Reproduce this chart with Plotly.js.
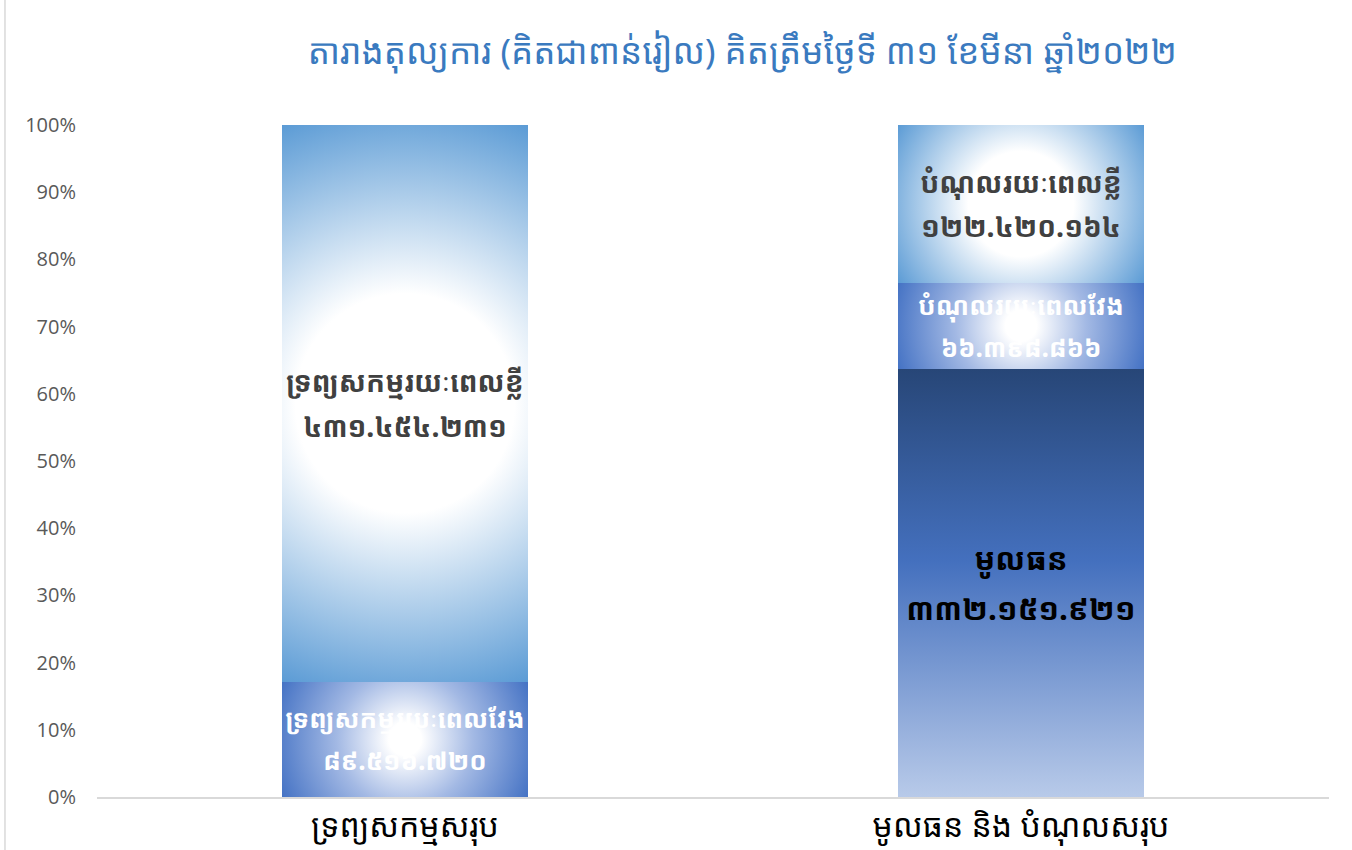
<!DOCTYPE html>
<html>
<head>
<meta charset="utf-8">
<script src="https://cdn.plot.ly/plotly-3.0.1.min.js"></script>
<style>
  html, body { margin: 0; padding: 0; background: #ffffff; }
  #chart { width: 1352px; height: 850px; }
</style>
</head>
<body>
<div id="chart"></div>
<script>
// ---------------- DATA ----------------
const titleText = 'តារាងតុល្យការ (គិតជាពាន់រៀល) គិតត្រឹមថ្ងៃទី ៣១ ខែមីនា ឆ្នាំ២០២២';
const categories = ['ទ្រព្យសកម្មសរុប', 'មូលធន និង បំណុលសរុប'];
const seriesNames = ['ទ្រព្យសកម្មរយៈពេលវែង', 'ទ្រព្យសកម្មរយៈពេលខ្លី', 'មូលធន', 'បំណុលរយៈពេលវែង', 'បំណុលរយៈពេលខ្លី'];
const seriesCategory = [0, 0, 1, 1, 1];
const seriesValues = [89516720, 431454231, 332151921, 66398866, 122420164];
const yTickValues = [0, 0.1, 0.2, 0.3, 0.4, 0.5, 0.6, 0.7, 0.8, 0.9, 1.0];

// ---------------- STYLES ----------------
const khmerFont = "'Khmer OS Siemreap', 'Khmer OS', 'Noto Sans Khmer', 'Noto Serif Khmer', 'Hanuman', 'Noto Sans', sans-serif";
const baseColors = ['#4472C4', '#5B9BD5', '#3B62A8', '#4472C4', '#5B9BD5'];
const textColors = ['#ffffff', '#404040', '#000000', '#ffffff', '#404040'];
const textSizes = [26, 28, 31, 26, 28];
const lineGapEm = 1.6;
const fillSpecs = [
  { type: 'radial', stops: [[0, '#ffffff'], [0.12, '#ffffff'], [0.5, '#a3b9e4'], [1, '#4472C4']] },
  { type: 'radial', stops: [[0, '#ffffff'], [0.36, '#ffffff'], [1, '#5B9BD5']] },
  { type: 'linear', stops: [[0, '#274677'], [0.45, '#4470BE'], [1, '#B8CAE9']] },
  { type: 'radial', stops: [[0, '#ffffff'], [0.12, '#ffffff'], [0.5, '#a3b9e4'], [1, '#4472C4']] },
  { type: 'radial', stops: [[0, '#ffffff'], [0.36, '#ffffff'], [1, '#5B9BD5']] }
];

const khmerDigits = ['០', '១', '២', '៣', '៤', '៥', '៦', '៧', '៨', '៩'];
function toKhmerNumber(n) {
  const s = String(n).replace(/\B(?=(\d{3})+(?!\d))/g, '.');
  return s.replace(/\d/g, d => khmerDigits[+d]);
}

const traces = seriesNames.map((name, i) => ({
  type: 'bar',
  name: name,
  x: [categories[seriesCategory[i]]],
  y: [seriesValues[i]],
  text: [name + '<br>' + toKhmerNumber(seriesValues[i])],
  textposition: 'inside',
  insidetextanchor: 'middle',
  textangle: 0,
  constraintext: 'none',
  textfont: { family: khmerFont, size: textSizes[i], color: textColors[i], weight: 'bold' },
  marker: { color: baseColors[i], line: { width: 0 } },
  hoverinfo: 'skip',
  showlegend: false
}));

const layout = {
  width: 1352,
  height: 850,
  paper_bgcolor: '#ffffff',
  plot_bgcolor: '#ffffff',
  margin: { l: 97, r: 23, t: 125, b: 53, pad: 0 },
  barmode: 'stack',
  barnorm: 'fraction',
  bargap: 0.6,
  showlegend: false,
  title: {
    text: titleText,
    font: { family: khmerFont, size: 35, color: '#3A7ABF' },
    xref: 'container', x: 0.549, xanchor: 'center',
    yref: 'container', y: 0.939, yanchor: 'middle'
  },
  xaxis: {
    type: 'category',
    categoryorder: 'array',
    categoryarray: categories,
    range: [-0.5, 1.5],
    showline: true,
    linecolor: '#d9d9d9',
    linewidth: 1.5,
    showgrid: false,
    zeroline: false,
    ticks: '',
    tickfont: { family: khmerFont, size: 32, color: '#000000' },
    ticklabelstandoff: 0
  },
  yaxis: {
    range: [0, 1],
    tickvals: yTickValues,
    tickformat: '.0%',
    showgrid: false,
    zeroline: false,
    showline: false,
    ticks: '',
    tickfont: { family: "'Open Sans', 'Liberation Sans', sans-serif", size: 20, color: '#595959' },
    ticklabelstandoff: 20
  },
  shapes: [{
    type: 'line', xref: 'paper', yref: 'paper',
    x0: -0.0747, x1: -0.0747, y0: -0.08, y1: 1.19,
    line: { color: '#d9d9d9', width: 1.5 }
  }]
};

function applyGradients(gd) {
  const NS = 'http://www.w3.org/2000/svg';
  const svg = gd.querySelector('svg.main-svg');
  let defs = svg.querySelector('defs');
  if (!defs) { defs = document.createElementNS(NS, 'defs'); svg.insertBefore(defs, svg.firstChild); }
  const traceGroups = gd.querySelectorAll('.barlayer .trace');
  traceGroups.forEach((tg, i) => {
    const path = tg.querySelector('.point path');
    const spec = fillSpecs[i];
    if (!path || !spec) return;
    const bb = path.getBBox();
    const id = 'segfill' + i;
    let g;
    if (spec.type === 'linear') {
      g = document.createElementNS(NS, 'linearGradient');
      g.setAttribute('x1', '0'); g.setAttribute('y1', '0');
      g.setAttribute('x2', '0'); g.setAttribute('y2', '1');
    } else {
      g = document.createElementNS(NS, 'radialGradient');
      g.setAttribute('gradientUnits', 'userSpaceOnUse');
      const cx = bb.x + bb.width / 2, cy = bb.y + bb.height / 2;
      g.setAttribute('cx', cx); g.setAttribute('cy', cy);
      g.setAttribute('fx', cx); g.setAttribute('fy', cy);
      g.setAttribute('r', Math.hypot(bb.width, bb.height) / 2);
    }
    g.setAttribute('id', id);
    spec.stops.forEach(([off, col]) => {
      const st = document.createElementNS(NS, 'stop');
      st.setAttribute('offset', off);
      st.setAttribute('stop-color', col);
      g.appendChild(st);
    });
    defs.appendChild(g);
    path.style.fill = 'url(#' + id + ')';

    // widen the gap between the two label lines, keeping the block centred
    const txt = tg.querySelector('.point text');
    if (txt) {
      const size = textSizes[i];
      const lines = txt.querySelectorAll('tspan.line');
      let extra = 0;
      lines.forEach((ln, k) => {
        if (k > 0) {
          ln.setAttribute('dy', (lineGapEm * size) + 'px');
          extra += (lineGapEm - 1.3) * size;
        }
      });
      const old = txt.getAttribute('transform') || '';
      txt.setAttribute('transform', old + ' translate(0,' + (-extra / 2) + ')');
    }
  });
}

const gd = document.getElementById('chart');
Plotly.newPlot(gd, traces, layout, { staticPlot: true, displayModeBar: false }).then(applyGradients);
</script>
</body>
</html>
